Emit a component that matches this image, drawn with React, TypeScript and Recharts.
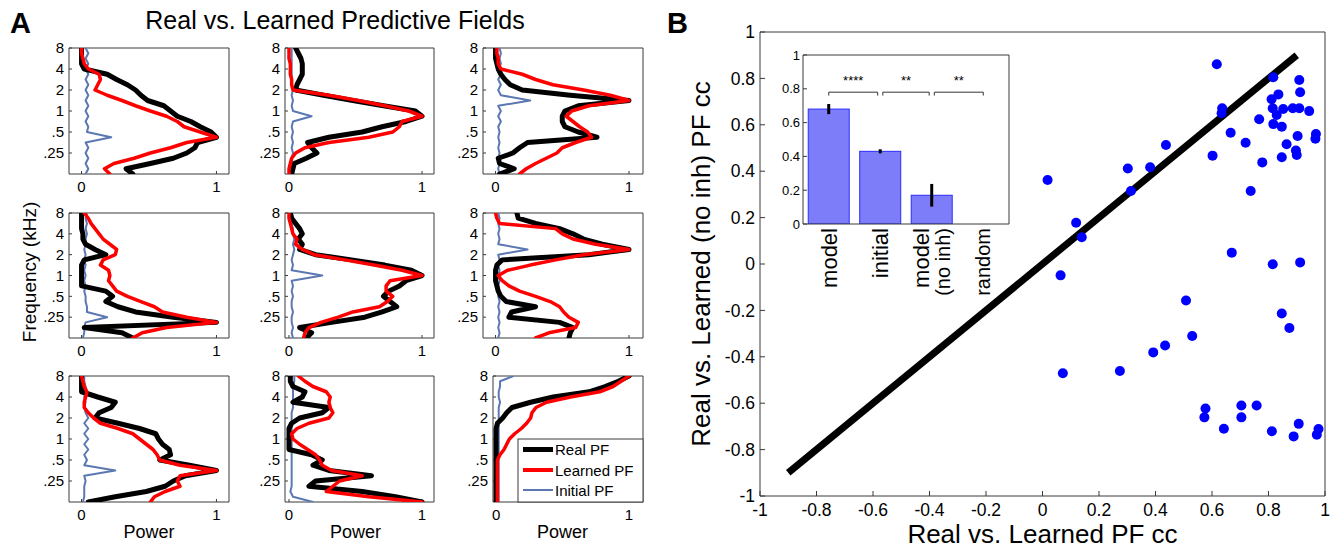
import { ScatterChart, Scatter, ComposedChart, Bar, ErrorBar, XAxis, YAxis } from 'recharts';

// ---- panel A: predictive fields, frequency in octaves re 1 kHz (top of panel first)
const OCTAVES = [3, 2.75, 2.5, 2.25, 2, 1.75, 1.5, 1.25, 1, 0.75, 0.5, 0.25, 0, -0.25, -0.5, -0.75, -1, -1.25, -1.5, -1.75, -2, -2.25, -2.5, -2.75, -3];
const FREQ_TICKS = [3, 2, 1, 0, -1, -2];
const FREQ_LABELS = ['8', '4', '2', '1', '.5', '.25'];
const POWER_TICKS = [0, 1];

const real1 = [0, 0, 0, 0, 0.02, 0.19, 0.26, 0.34, 0.4, 0.44, 0.49, 0.61, 0.66, 0.71, 0.81, 0.88, 0.96, 1.0, 0.86, 0.84, 0.78, 0.68, 0.51, 0.33, 0.38];
const learned1 = [0, 0, 0.01, 0.02, 0.05, 0.13, 0.14, 0.12, 0.1, 0.19, 0.3, 0.4, 0.51, 0.63, 0.71, 0.76, 0.88, 1.0, 0.78, 0.66, 0.51, 0.39, 0.24, 0.17, 0.21];
const initial1 = [0.03, 0.05, 0.03, 0.05, 0.03, 0.05, 0.03, 0.05, 0.03, 0.05, 0.03, 0.05, 0.03, 0.05, 0.03, 0.05, 0.04, 0.22, 0.03, 0.05, 0.03, 0.05, 0.03, 0.05, 0.03];

const real2 = [0.05, 0.07, 0.09, 0.1, 0.1, 0.1, 0.08, 0.06, 0.05, 0.26, 0.48, 0.71, 0.95, 1.0, 0.88, 0.7, 0.55, 0.3, 0.14, 0.17, 0.21, 0.13, 0.04, 0.03, 0.02];
const learned2 = [0, 0, 0, 0.01, 0.01, 0.01, 0.02, 0.02, 0.03, 0.3, 0.52, 0.72, 0.9, 1.0, 0.85, 0.83, 0.78, 0.6, 0.3, 0.12, 0.05, 0.02, 0.01, 0, 0];
const initial2 = [0.02, 0.02, 0.02, 0.02, 0.02, 0.02, 0.02, 0.02, 0.03, 0.02, 0.03, 0.02, 0.03, 0.17, 0.03, 0.02, 0.03, 0.02, 0.03, 0.02, 0.03, 0.02, 0.03, 0.02, 0.03];

const real3 = [0, 0, 0, 0.01, 0.02, 0.04, 0.07, 0.11, 0.2, 0.56, 1.0, 0.62, 0.52, 0.5, 0.5, 0.52, 0.62, 0.76, 0.24, 0.18, 0.13, 0.02, 0.03, 0.14, 0.03];
const learned3 = [0.01, 0.01, 0.02, 0.02, 0.04, 0.2, 0.3, 0.43, 0.66, 0.86, 1.0, 0.7, 0.57, 0.53, 0.58, 0.63, 0.69, 0.72, 0.6, 0.5, 0.46, 0.38, 0.3, 0.23, 0.18];
const initial3 = [0.03, 0.04, 0.03, 0.04, 0.02, 0.04, 0.02, 0.04, 0.02, 0.04, 0.26, 0.02, 0.04, 0.02, 0.04, 0.02, 0.03, 0.02, 0.03, 0.02, 0.03, 0.02, 0.03, 0.02, 0.03];

const real4 = [0, 0, 0, 0, 0.01, 0.01, 0.03, 0.1, 0.18, 0.02, 0, 0, 0, 0, 0, 0.18, 0.23, 0.18, 0.27, 0.4, 0.68, 1.0, 0.02, 0.3, 0.38];
const learned4 = [0.02, 0.05, 0.07, 0.1, 0.13, 0.16, 0.21, 0.26, 0.25, 0.16, 0.14, 0.2, 0.21, 0.2, 0.23, 0.26, 0.34, 0.44, 0.54, 0.6, 0.78, 1.0, 0.63, 0.45, 0.38];
const initial4 = [0.04, 0.03, 0.04, 0.03, 0.04, 0.03, 0.03, 0.02, 0.03, 0.02, 0.03, 0.02, 0.03, 0.02, 0.03, 0.02, 0.03, 0.03, 0.04, 0.04, 0.19, 0.03, 0.02, 0.02, 0.01];

const real5 = [0.01, 0.02, 0.05, 0.08, 0.1, 0.07, 0.1, 0.08, 0.2, 0.47, 0.72, 0.92, 1.0, 0.88, 0.83, 0.75, 0.71, 0.76, 0.81, 0.7, 0.57, 0.32, 0.08, 0.17, 0.13];
const learned5 = [0, 0, 0.01, 0.02, 0.03, 0.06, 0.05, 0.1, 0.19, 0.42, 0.64, 0.85, 1.0, 0.76, 0.73, 0.73, 0.78, 0.74, 0.68, 0.48, 0.37, 0.24, 0.15, 0.12, 0.11];
const initial5 = [0.02, 0.03, 0.02, 0.03, 0.03, 0.04, 0.03, 0.04, 0.03, 0.02, 0.03, 0.02, 0.25, 0.02, 0.03, 0.02, 0.03, 0.02, 0.02, 0.03, 0.02, 0.02, 0.03, 0.02, 0.03];

const real6 = [0.16, 0.17, 0.3, 0.48, 0.58, 0.66, 0.8, 1.0, 0.7, 0.05, 0.01, 0, 0, 0, 0.01, 0.02, 0.04, 0.08, 0.3, 0.12, 0.1, 0.48, 0.58, 0.56, 0.55];
const learned6 = [0, 0.01, 0.03, 0.45, 0.5, 0.58, 0.75, 1.0, 0.66, 0.45, 0.26, 0.09, 0.02, 0.05, 0.1, 0.18, 0.3, 0.41, 0.48, 0.51, 0.55, 0.62, 0.6, 0.4, 0.3];
const initial6 = [0.02, 0.03, 0.02, 0.03, 0.02, 0.03, 0.02, 0.24, 0.02, 0.03, 0.02, 0.03, 0.02, 0.03, 0.02, 0.03, 0.02, 0.03, 0.02, 0.03, 0.02, 0.03, 0.02, 0.03, 0.02];

const real7 = [0, 0, 0, 0, 0.12, 0.25, 0.22, 0.13, 0.1, 0.27, 0.43, 0.55, 0.57, 0.6, 0.65, 0.66, 0.58, 0.8, 1.0, 0.77, 0.68, 0.62, 0.48, 0.25, 0.05];
const learned7 = [0, 0.01, 0.02, 0.04, 0.03, 0.02, 0.02, 0.05, 0.09, 0.14, 0.27, 0.38, 0.43, 0.48, 0.53, 0.56, 0.58, 0.73, 1.0, 0.73, 0.71, 0.73, 0.62, 0.54, 0.51];
const initial7 = [0.02, 0.02, 0.03, 0.03, 0.02, 0.03, 0.02, 0.03, 0.05, 0.02, 0.05, 0.02, 0.05, 0.02, 0.05, 0.02, 0.04, 0.02, 0.25, 0.02, 0.03, 0.02, 0.02, 0.02, 0.01];

const real8 = [0.01, 0.01, 0.03, 0.12, 0.1, 0.03, 0.3, 0.25, 0.08, 0.02, 0, 0, 0, 0, 0, 0.17, 0.25, 0.18, 0.3, 0.62, 0.2, 0.15, 0.55, 0.8, 1.0];
const learned8 = [0.07, 0.12, 0.18, 0.28, 0.31, 0.3, 0.31, 0.33, 0.3, 0.15, 0.06, 0.02, 0.03, 0.08, 0.14, 0.2, 0.23, 0.25, 0.32, 0.55, 0.38, 0.33, 0.28, 0.6, 1.0];
const initial8 = [0.04, 0.04, 0.03, 0.03, 0.03, 0.03, 0.03, 0.02, 0.02, 0.02, 0.02, 0.02, 0.02, 0.02, 0.02, 0.02, 0.02, 0.02, 0.02, 0.02, 0.02, 0.02, 0.01, 0.03, 0.18];

const real9 = [1.0, 0.92, 0.82, 0.7, 0.43, 0.26, 0.12, 0.08, 0.05, 0.01, 0, 0, 0, 0, 0, 0, 0, 0, 0, 0, 0, 0, 0, 0, 0];
const learned9 = [1.0, 0.94, 0.88, 0.78, 0.56, 0.38, 0.3, 0.27, 0.26, 0.23, 0.19, 0.14, 0.1, 0.08, 0.06, 0.03, 0.01, 0.01, 0.01, 0.01, 0.01, 0.01, 0.01, 0.01, 0.01];
const initial9 = [0.13, 0.03, 0.03, 0.02, 0.02, 0.03, 0.02, 0.02, 0.02, 0.02, 0.02, 0.02, 0.02, 0.02, 0.02, 0.02, 0.02, 0.02, 0.02, 0.02, 0.02, 0.02, 0.02, 0.02, 0.02];

// ---- panel B: correlation coefficients
const CC_TICKS = [-1, -0.8, -0.6, -0.4, -0.2, 0, 0.2, 0.4, 0.6, 0.8, 1];
const ccLearned = [0.617, 0.817, 0.909, 0.912, 0.835, 0.811, 0.815, 0.852, 0.886, 0.909, 0.944, 0.829, 0.636, 0.634, 0.767, 0.817, 0.847, 0.666, 0.903, 0.968,
  0.966, 0.719, 0.864, 0.897, 0.9, 0.847, 0.602, 0.778, 0.437, 0.381, 0.302, 0.313, 0.737, 0.018, 0.119, 0.139, 0.67, 0.815, 0.912, 0.064,
  0.508, 0.847, 0.874, 0.53, 0.434, 0.392, 0.072, 0.274, 0.577, 0.573, 0.704, 0.758, 0.704, 0.642, 0.812, 0.889, 0.907, 0.971, 0.977];
const ccNoInh = [0.861, 0.805, 0.793, 0.74, 0.731, 0.71, 0.671, 0.668, 0.671, 0.671, 0.659, 0.642, 0.671, 0.65, 0.624, 0.603, 0.592, 0.566, 0.552, 0.56,
  0.54, 0.523, 0.516, 0.489, 0.47, 0.46, 0.467, 0.438, 0.513, 0.417, 0.412, 0.315, 0.315, 0.362, 0.178, 0.115, 0.049, -0.001, 0.007, -0.049,
  -0.157, -0.213, -0.276, -0.31, -0.351, -0.381, -0.471, -0.461, -0.623, -0.661, -0.61, -0.61, -0.661, -0.71, -0.721, -0.743, -0.689, -0.736, -0.711];
const DIAG = [-0.9, 0.9];

// inset bars
const BAR_POS = [1, 2, 3, 4];
const BAR_MEAN = [0.68, 0.43, 0.17, 0];
const BAR_ERR = [0.03, 0.012, 0.067, 0];
const BAR_LABELS = [['model'], ['initial'], ['model', '(no inh)'], ['random']];
const INSET_TICKS = [0, 0.2, 0.4, 0.6, 0.8, 1];
const SIG_SPANS = [[1, 1.95], [2.05, 2.95], [3.05, 4]];
const SIG_STARS = ['****', '**', '**'];
const SIG_LEVEL = 0.78;
const SIG_FOOT = 0.76;
const STAR_LEVEL = 0.82;

const AXIS = '#3a3a3a';
const REAL_COLOR = '#000000';
const LEARNED_COLOR = '#ff0000';
const INITIAL_COLOR = '#5b78b2';
const FONT = '"Liberation Sans", Arial, Helvetica, sans-serif';
const BAR_WIDTH = 41;

interface PanelLayout {
  real: number[];
  learned: number[];
  initial: number[];
  left: number;
  top: number;
  w: number;
  h: number;
  dom: [number, number];
}

const PANELS: PanelLayout[] = [
  { real: real1, learned: learned1, initial: initial1, left: 69, top: 48, w: 160, h: 126, dom: [-0.093, 1.093] },
  { real: real2, learned: learned2, initial: initial2, left: 285, top: 48, w: 149, h: 126, dom: [-0.03, 1.09] },
  { real: real3, learned: learned3, initial: initial3, left: 483, top: 48, w: 160, h: 126, dom: [-0.094, 1.105] },
  { real: real4, learned: learned4, initial: initial4, left: 69, top: 213, w: 160, h: 125, dom: [-0.093, 1.093] },
  { real: real5, learned: learned5, initial: initial5, left: 285, top: 213, w: 149, h: 125, dom: [-0.03, 1.09] },
  { real: real6, learned: learned6, initial: initial6, left: 483, top: 213, w: 160, h: 125, dom: [-0.094, 1.105] },
  { real: real7, learned: learned7, initial: initial7, left: 69, top: 376, w: 160, h: 126, dom: [-0.093, 1.093] },
  { real: real8, learned: learned8, initial: initial8, left: 285, top: 376, w: 149, h: 126, dom: [-0.03, 1.09] },
  { real: real9, learned: learned9, initial: initial9, left: 493, top: 376, w: 150, h: 126, dom: [-0.023, 1.105] },
];

const noDot = () => <g />;

const toPoints = (values: number[]) => OCTAVES.map((o, i) => ({ o, p: values[i] }));

const ccLabel = (v: number) => String(v);

function FieldPanel({ panel }: { panel: PanelLayout }) {
  const yw = 40;
  const top = 8;
  const xh = 28;
  const right = 6;
  const width = yw + panel.w + 1 + right;
  const height = top + panel.h + xh;
  const lineProps = { strokeLinejoin: 'round' as const, strokeLinecap: 'round' as const };
  return (
    <div style={{ position: 'absolute', left: panel.left - yw, top: panel.top - top }}>
      <ScatterChart width={width} height={height} margin={{ top: top - 1, right, bottom: 0, left: 0 }}>
        <XAxis type="number" dataKey="p" domain={panel.dom} ticks={POWER_TICKS} allowDataOverflow interval={0}
          height={xh} tickSize={-3} tickMargin={10} stroke={AXIS} tick={{ fill: '#000', fontSize: 15 }} />
        <XAxis xAxisId="top" orientation="top" type="number" domain={panel.dom} ticks={POWER_TICKS} allowDataOverflow
          height={1} tick={false} tickSize={-3} stroke={AXIS} />
        <YAxis type="number" dataKey="o" domain={[-3, 3]} ticks={FREQ_TICKS} allowDataOverflow interval={0}
          width={yw} tickSize={-3} tickMargin={8} stroke={AXIS} tick={{ fill: '#000', fontSize: 15 }}
          tickFormatter={(v: number) => FREQ_LABELS[FREQ_TICKS.indexOf(v)]} />
        <YAxis yAxisId="right" orientation="right" type="number" domain={[-3, 3]} ticks={FREQ_TICKS} allowDataOverflow
          width={1} tick={false} tickSize={-3} stroke={AXIS} />
        <Scatter data={toPoints(panel.initial)} shape={noDot} isAnimationActive={false}
          line={{ stroke: INITIAL_COLOR, strokeWidth: 2, ...lineProps }} />
        <Scatter data={toPoints(panel.real)} shape={noDot} isAnimationActive={false}
          line={{ stroke: REAL_COLOR, strokeWidth: 5, ...lineProps }} />
        <Scatter data={toPoints(panel.learned)} shape={noDot} isAnimationActive={false}
          line={{ stroke: LEARNED_COLOR, strokeWidth: 3.5, ...lineProps }} />
      </ScatterChart>
    </div>
  );
}

function CorrelationScatter() {
  const points = ccLearned.map((x, i) => ({ x, y: ccNoInh[i] }));
  const diag = DIAG.map((v) => ({ x: v, y: v }));
  return (
    <div style={{ position: 'absolute', left: 680, top: 0 }}>
      <ScatterChart width={663} height={548} margin={{ top: 31, right: 17, bottom: 0, left: 0 }}>
        <XAxis type="number" dataKey="x" domain={[-1, 1]} ticks={CC_TICKS} allowDataOverflow interval={0}
          height={52} tickSize={-5} tickMargin={13} stroke={AXIS} tick={{ fill: '#000', fontSize: 17.5 }} tickFormatter={ccLabel} />
        <XAxis xAxisId="top" orientation="top" type="number" domain={[-1, 1]} ticks={CC_TICKS} allowDataOverflow
          height={1} tick={false} tickSize={-5} stroke={AXIS} />
        <YAxis type="number" dataKey="y" domain={[-1, 1]} ticks={CC_TICKS} allowDataOverflow interval={0}
          width={80} tickSize={-5} tickMargin={10} stroke={AXIS} tick={{ fill: '#000', fontSize: 17.5 }} tickFormatter={ccLabel} />
        <YAxis yAxisId="right" orientation="right" type="number" domain={[-1, 1]} ticks={CC_TICKS} allowDataOverflow
          width={1} tick={false} tickSize={-5} stroke={AXIS} />
        <Scatter data={diag} shape={noDot} isAnimationActive={false} line={{ stroke: '#000', strokeWidth: 7 }} />
        <Scatter data={points} isAnimationActive={false}
          shape={(p: any) => <circle cx={p.cx} cy={p.cy} r={5} fill="#0000ff" />} />
      </ScatterChart>
    </div>
  );
}

function BarLabel(props: any) {
  const { x, y, payload } = props;
  const lines = BAR_LABELS[BAR_POS.indexOf(payload.value)] || [];
  const sizes = lines.length > 1 ? [22, 20] : [payload.value === 4 ? 20 : 22];
  const offsets = lines.length > 1 ? [-11, 11] : [0];
  return (
    <g>
      {lines.map((t, i) => (
        <text key={t} transform={`translate(${x + offsets[i]},${y}) rotate(-90)`} textAnchor="end" dy="0.36em"
          fontSize={sizes[i]} fill="#000">{t}</text>
      ))}
    </g>
  );
}

// fixed-width bar centred on the position the scale gives
function WideBar(p: any) {
  if (!p.height || p.height <= 0) return <g />;
  const cx = p.x + p.width / 2;
  return <rect x={cx - BAR_WIDTH / 2} y={p.y} width={BAR_WIDTH} height={p.height} fill="#7d7dfa" stroke="#2b2bff" strokeWidth={1} />;
}

function SignificanceInset() {
  const bars = BAR_POS.map((pos, i) => ({ pos, value: BAR_MEAN[i], err: BAR_ERR[i] }));
  const brackets = SIG_SPANS.map(([a, b]) => [
    { pos: a, value: SIG_FOOT }, { pos: a, value: SIG_LEVEL }, { pos: b, value: SIG_LEVEL }, { pos: b, value: SIG_FOOT },
  ]);
  const stars = SIG_SPANS.map(([a, b], i) => ({ pos: (a + b) / 2, value: STAR_LEVEL, label: SIG_STARS[i] }));
  return (
    <div style={{ position: 'absolute', left: 768, top: 45 }}>
      <ComposedChart width={246} height={259} data={bars} margin={{ top: 9, right: 4, bottom: 0, left: 0 }}>
        <XAxis type="number" dataKey="pos" domain={[0.5, 4.5]} ticks={BAR_POS} allowDataOverflow interval={0}
          height={80} tickSize={0} tickMargin={4} stroke={AXIS} tick={<BarLabel />} />
        <XAxis xAxisId="top" orientation="top" type="number" domain={[0.5, 4.5]} ticks={BAR_POS} allowDataOverflow
          height={1} tick={false} tickLine={false} stroke={AXIS} />
        <YAxis type="number" dataKey="value" domain={[0, 1]} ticks={INSET_TICKS} allowDataOverflow interval={0}
          width={35} tickSize={-4} tickMargin={7} stroke={AXIS} tick={{ fill: '#000', fontSize: 13 }} tickFormatter={ccLabel} />
        <YAxis yAxisId="right" orientation="right" type="number" domain={[0, 1]} ticks={INSET_TICKS} allowDataOverflow
          width={1} tick={false} tickSize={-4} stroke={AXIS} />
        <Bar dataKey="value" shape={WideBar} isAnimationActive={false}>
          <ErrorBar dataKey="err" width={0} stroke="#000" strokeWidth={3} direction="y" />
        </Bar>
        {brackets.map((b, i) => (
          <Scatter key={i} data={b} shape={noDot} isAnimationActive={false} line={{ stroke: '#333', strokeWidth: 1 }} />
        ))}
        <Scatter data={stars} isAnimationActive={false}
          shape={(p: any) => (
            <text x={p.cx} y={p.cy} textAnchor="middle" fontSize={13} fill="#000">{p.payload.label}</text>
          )} />
      </ComposedChart>
    </div>
  );
}

function Annotations() {
  return (
    <svg width={1343} height={548} style={{ position: 'absolute', left: 0, top: 0 }}>
      <text x={10} y={33} fontSize={29} fontWeight="bold">A</text>
      <text x={667} y={33} fontSize={29} fontWeight="bold">B</text>
      <text x={335} y={29} fontSize={25} textAnchor="middle">Real vs. Learned Predictive Fields</text>
      <text transform="translate(36,272) rotate(-90)" fontSize={19} textAnchor="middle">Frequency (kHz)</text>
      {[149, 355.5, 562.5].map((cx) => (
        <text key={cx} x={cx} y={538} fontSize={18} textAnchor="middle">Power</text>
      ))}
      <text x={1042.5} y={543} fontSize={26} textAnchor="middle">Real vs. Learned PF cc</text>
      <text transform="translate(710,264) rotate(-90)" fontSize={26} textAnchor="middle">Real vs. Learned (no inh) PF cc</text>
    </svg>
  );
}

function LegendBox() {
  const rows = [
    { label: 'Real PF', color: REAL_COLOR, width: 5, y: 449.5 },
    { label: 'Learned PF', color: LEARNED_COLOR, width: 4, y: 470 },
    { label: 'Initial PF', color: INITIAL_COLOR, width: 2, y: 490 },
  ];
  return (
    <svg width={1343} height={548} style={{ position: 'absolute', left: 0, top: 0 }}>
      <rect x={518} y={439} width={125} height={63} fill="#fff" stroke={AXIS} strokeWidth={1} />
      {rows.map((r) => (
        <g key={r.label}>
          <line x1={523} x2={553} y1={r.y} y2={r.y} stroke={r.color} strokeWidth={r.width} />
          <text x={555} y={r.y + 5.5} fontSize={15} fill="#000">{r.label}</text>
        </g>
      ))}
    </svg>
  );
}

export default function App() {
  return (
    <div style={{ position: 'absolute', left: 0, top: 0, width: 1343, height: 548, background: '#fff', fontFamily: FONT, overflow: 'hidden' }}>
      <Annotations />
      {PANELS.map((p, i) => (
        <FieldPanel key={i} panel={p} />
      ))}
      <LegendBox />
      <CorrelationScatter />
      <SignificanceInset />
    </div>
  );
}
